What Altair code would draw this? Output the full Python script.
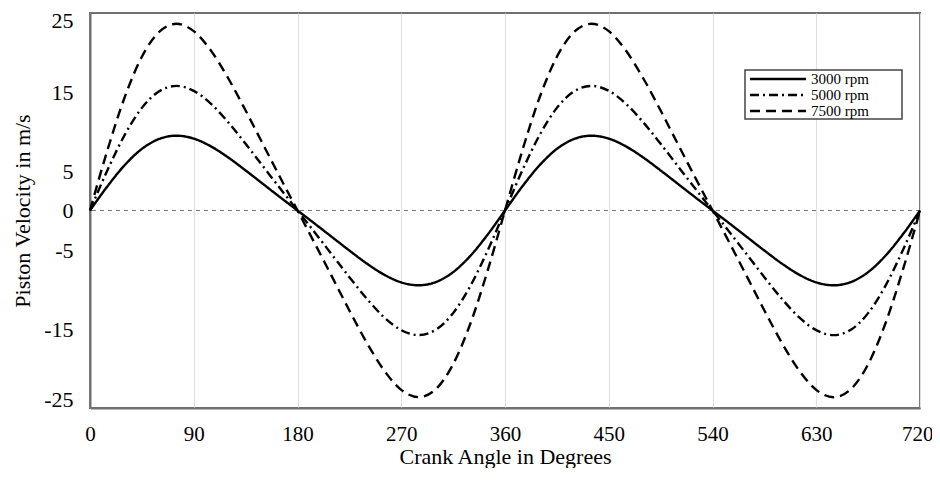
import altair as alt
import pandas as pd

angles = list(range(0, 721, 15))

v3000 = [0, 3.04, 5.73, 7.80, 9.06, 9.47, 9.10, 8.11, 6.70, 5.07, 3.37, 1.67,
         0, -1.67, -3.37, -5.07, -6.70, -8.11, -9.10, -9.47, -9.06, -7.80, -5.73, -3.04,
         0, 3.04, 5.73, 7.80, 9.06, 9.47, 9.10, 8.11, 6.70, 5.07, 3.37, 1.67,
         0, -1.67, -3.37, -5.07, -6.70, -8.11, -9.10, -9.47, -9.06, -7.80, -5.73, -3.04, 0]

v5000 = [0, 5.06, 9.54, 12.99, 15.09, 15.77, 15.15, 13.50, 11.15, 8.44, 5.61, 2.78,
         0, -2.78, -5.61, -8.44, -11.15, -13.50, -15.15, -15.77, -15.09, -12.99, -9.54, -5.06,
         0, 5.06, 9.54, 12.99, 15.09, 15.77, 15.15, 13.50, 11.15, 8.44, 5.61, 2.78,
         0, -2.78, -5.61, -8.44, -11.15, -13.50, -15.15, -15.77, -15.09, -12.99, -9.54, -5.06, 0]

v7500 = [0, 7.58, 14.30, 19.46, 22.61, 23.63, 22.70, 20.22, 16.71, 12.65, 8.40, 4.17,
         0, -4.17, -8.40, -12.65, -16.71, -20.22, -22.70, -23.63, -22.61, -19.46, -14.30, -7.58,
         0, 7.58, 14.30, 19.46, 22.61, 23.63, 22.70, 20.22, 16.71, 12.65, 8.40, 4.17,
         0, -4.17, -8.40, -12.65, -16.71, -20.22, -22.70, -23.63, -22.61, -19.46, -14.30, -7.58, 0]

series_names = ["3000 rpm", "5000 rpm", "7500 rpm"]
legend_rows = [0, 1, 2]
x_ticks = [0, 90, 180, 270, 360, 450, 540, 630, 720]
y_ticks = [-25, -20, -15, -10, -5, 0, 5, 10, 15, 20, 25]
y_labels_shown = [25, 15, 5, 0, -5, -15, -25]

rows = []
for name, vals in zip(series_names, [v3000, v5000, v7500]):
    for a, v in zip(angles, vals):
        rows.append({"angle": a, "velocity": v, "series": name})
df = pd.DataFrame(rows)

FONT = "Liberation Serif"
dash_scale = alt.Scale(domain=series_names, range=[[1, 0], [9, 4, 2, 4], [10, 6]])
y_domain = alt.Scale(domain=[-25, 25], nice=False)

shown = ",".join(str(v) for v in y_labels_shown)
x_enc = alt.X("angle:Q",
              scale=alt.Scale(domain=[0, 720], nice=False),
              axis=alt.Axis(values=x_ticks, title="Crank Angle in Degrees",
                            labelFontSize=21, titleFontSize=22, labelPadding=15,
                            titlePadding=2, titleFontWeight="normal",
                            labelFlush=False,
                            labelAlign={"expr": "datum.value == 720 ? 'right' : 'center'"},
                            labelOffset={"expr": "datum.value == 720 ? 13 : 0"},
                            ticks=False, domainColor="#707070", domainWidth=2,
                            gridColor="#e0e0e0", gridWidth=1.2,
                            labelColor="black", titleColor="black"))
y_enc = alt.Y("velocity:Q",
              scale=y_domain,
              axis=alt.Axis(values=y_ticks,
                            labelExpr="indexof([" + shown + "], datum.value) >= 0 ? '' + datum.value : ''",
                            title="Piston Velocity in m/s",
                            labelFontSize=22, titleFontSize=22, labelPadding=17,
                            titlePadding=9, titleFontWeight="normal",
                            labelFlush=True, labelFlushOffset=3,
                            ticks=False, domainColor="#707070", domainWidth=2,
                            gridColor="#e0e0e0", gridWidth=1.2,
                            labelColor="black", titleColor="black"))

lines = alt.Chart(df).mark_line(color="black", strokeWidth=2.4, interpolate="monotone").encode(
    x=x_enc,
    y=y_enc,
    strokeDash=alt.StrokeDash("series:N", scale=dash_scale, legend=None),
    detail="series:N",
)

zero_df = pd.DataFrame({"y": [0]})
zero = alt.Chart(zero_df).mark_rule(color="#777", strokeDash=[4, 4], strokeWidth=1.2).encode(
    y=alt.Y("y:Q", scale=y_domain, axis=None)
)

# manual legend (box + line samples + labels)
legend_df = pd.DataFrame({"series": series_names, "row": legend_rows})
leg_y = alt.Y("row:Q", scale=alt.Scale(domain=[0, 2], range=[66, 98], nice=False, zero=False), axis=None)

legend_box = alt.Chart(pd.DataFrame({"k": [1]})).mark_rect(
    fill="white", stroke="#444", strokeWidth=1.5
).encode(x=alt.value(655), x2=alt.value(812), y=alt.value(57), y2=alt.value(106))

legend_lines = alt.Chart(legend_df).mark_rule(color="black", strokeWidth=2.5).encode(
    x=alt.value(660), x2=alt.value(716),
    y=leg_y,
    strokeDash=alt.StrokeDash("series:N", scale=dash_scale, legend=None),
)

legend_text = alt.Chart(legend_df).mark_text(
    align="left", baseline="middle", fontSize=15, font=FONT, color="black"
).encode(x=alt.value(721), y=leg_y, text="series:N")

chart = alt.layer(zero, lines, legend_box, legend_lines, legend_text).resolve_scale(
    y="independent"
).properties(
    width=830, height=395,
    autosize=alt.AutoSizeParams(type="none"),
    padding={"left": 82, "top": 5, "right": 12, "bottom": 60},
).configure(
    font=FONT,
).configure_view(
    stroke="#707070", strokeWidth=2
)

chart.save("out.html", embed_options={"renderer": "svg", "actions": False})
